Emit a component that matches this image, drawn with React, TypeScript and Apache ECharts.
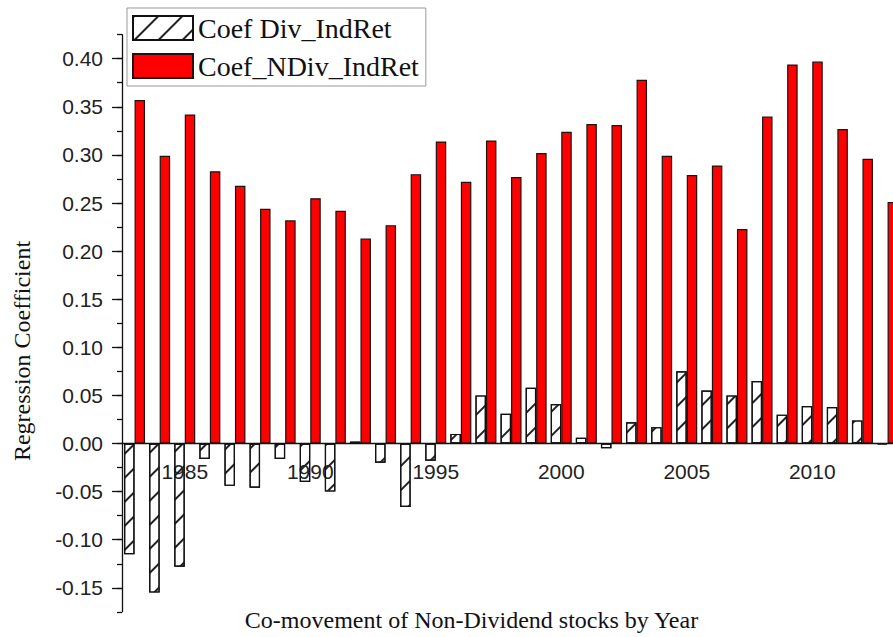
import React, { useEffect, useRef } from "react";
import * as echarts from "echarts";

// Years on the category axis
const years: string[] = [
  "1983", "1984", "1985", "1986", "1987", "1988", "1989", "1990", "1991", "1992",
  "1993", "1994", "1995", "1996", "1997", "1998", "1999", "2000", "2001", "2002",
  "2003", "2004", "2005", "2006", "2007", "2008", "2009", "2010", "2011", "2012", "2013",
];

// Coefficient on dividend-payers' industry return
const coefDiv: number[] = [
  -0.115, -0.155, -0.128, -0.016, -0.044, -0.046, -0.016, -0.040, -0.050, 0.002,
  -0.020, -0.066, -0.018, 0.010, 0.050, 0.031, 0.058, 0.041, 0.006, -0.005,
  0.022, 0.017, 0.075, 0.055, 0.050, 0.065, 0.030, 0.039, 0.038, 0.024, -0.001,
];

// Coefficient on non-dividend-payers' industry return
const coefNDiv: number[] = [
  0.357, 0.299, 0.342, 0.283, 0.268, 0.244, 0.232, 0.255, 0.242, 0.213,
  0.227, 0.280, 0.314, 0.272, 0.315, 0.277, 0.302, 0.324, 0.332, 0.331,
  0.378, 0.299, 0.279, 0.289, 0.223, 0.340, 0.394, 0.397, 0.327, 0.296, 0.251,
];

const seriesNames: string[] = ["Coef Div_IndRet", "Coef_NDiv_IndRet"];

const SERIF = "'Liberation Serif', 'Times New Roman', serif";
const SANS = "'Liberation Sans', Arial, sans-serif";
const INK = "#111";

// Pixel frame shared by all grids (plot spans 1982.5 .. 2013.5)
const LEFT = 122;
const RIGHT = 29.9;

export default function App() {
  const ref = useRef<HTMLDivElement>(null);

  useEffect(() => {
    if (!ref.current) return;
    const chart = echarts.init(ref.current, undefined, { renderer: "svg" });

    const isMajorYear = (_i: number, v: string) => Number(v) % 5 === 0;
    const tickStyle = { color: INK, width: 1.3 };
    const gridBase = { left: LEFT, right: RIGHT, outerBoundsMode: "none", containLabel: false };

    chart.setOption({
      animation: false,
      backgroundColor: "#fff",
      grid: [
        // 0: bars, value range -0.175 .. 0.425
        { ...gridBase, top: 34.65, bottom: 25.15 },
        // 1: labelled value range -0.15 .. 0.40 on the same pixel scale
        { ...gridBase, top: 58.7, bottom: 49.2 },
        // 2 and 3: upper half ending at the zero line, carrying the year axis
        { ...gridBase, top: 34.65, bottom: 193.5 },
        { ...gridBase, top: 34.65, bottom: 193.5 },
      ],
      legend: {
        data: seriesNames,
        orient: "vertical",
        left: 127,
        top: 8,
        icon: "rect",
        itemWidth: 60,
        itemHeight: 24,
        itemGap: 10,
        padding: [6, 7, 6, 5],
        borderColor: "#999",
        borderWidth: 1,
        backgroundColor: "#fff",
        textStyle: { fontFamily: SERIF, fontSize: 28, color: INK },
      },
      xAxis: [
        { type: "category", gridIndex: 0, data: years, show: false },
        { type: "category", gridIndex: 1, data: years, show: false },
        {
          type: "category",
          gridIndex: 2,
          data: years,
          position: "bottom",
          axisLine: { onZero: false, lineStyle: tickStyle },
          axisTick: {
            alignWithLabel: true,
            interval: isMajorYear,
            length: 10,
            lineStyle: tickStyle,
          },
          axisLabel: {
            interval: isMajorYear,
            margin: 17,
            fontFamily: SANS,
            fontSize: 21,
            color: "#222",
          },
          splitLine: { show: false },
        },
        {
          type: "category",
          gridIndex: 3,
          data: years,
          position: "bottom",
          axisLine: { show: false, onZero: false },
          axisTick: {
            alignWithLabel: false,
            interval: (i: number) => (1983 + i) % 5 === 3,
            length: 5,
            lineStyle: tickStyle,
          },
          axisLabel: { show: false },
          splitLine: { show: false },
        },
      ],
      yAxis: [
        {
          type: "value",
          gridIndex: 0,
          min: -0.175,
          max: 0.425,
          interval: 0.025,
          axisLine: { show: true, onZero: false, lineStyle: tickStyle },
          axisTick: { show: true, length: 5, lineStyle: tickStyle },
          axisLabel: { show: false },
          splitLine: { show: false },
        },
        {
          type: "value",
          gridIndex: 1,
          min: -0.15,
          max: 0.4,
          interval: 0.05,
          axisLine: { show: false, onZero: false },
          axisTick: { show: true, length: 10, lineStyle: tickStyle },
          axisLabel: {
            margin: 19,
            fontFamily: SANS,
            fontSize: 21,
            color: "#222",
            formatter: (v: number) => v.toFixed(2),
          },
          splitLine: { show: false },
        },
        { type: "value", gridIndex: 2, min: 0, max: 1, show: false },
        { type: "value", gridIndex: 3, min: 0, max: 1, show: false },
      ],
      graphic: [
        {
          type: "text",
          x: 22,
          y: 351,
          rotation: Math.PI / 2,
          style: {
            text: "Regression Coefficient",
            font: `24px ${SERIF}`,
            fill: INK,
            textAlign: "center",
            textVerticalAlign: "middle",
          },
        },
        {
          type: "text",
          x: 471.5,
          y: 620,
          style: {
            text: "Co-movement of Non-Dividend stocks by Year",
            font: `24px ${SERIF}`,
            fill: INK,
            textAlign: "center",
            textVerticalAlign: "middle",
          },
        },
      ],
      series: [
        {
          name: seriesNames[0],
          type: "bar",
          xAxisIndex: 0,
          yAxisIndex: 0,
          data: coefDiv,
          barWidth: 10.5,
          barGap: "0%",
          itemStyle: {
            // open hatched bars: the year labels show through them
            color: "rgba(255,255,255,0)",
            borderColor: INK,
            borderWidth: 1.2,
            decal: {
              symbol: "rect",
              symbolSize: 1,
              color: "#222",
              dashArrayX: [[1, 0]],
              dashArrayY: [1.5, 14.5],
              rotation: -Math.PI / 4,
            },
          },
        },
        {
          name: seriesNames[1],
          type: "bar",
          xAxisIndex: 0,
          yAxisIndex: 0,
          data: coefNDiv,
          barWidth: 10.5,
          barGap: "0%",
          itemStyle: {
            color: "#ff0000",
            borderColor: "#221111",
            borderWidth: 1.2,
          },
        },
      ],
    });

    return () => chart.dispose();
  }, []);

  return (
    <div
      style={{
        position: "fixed",
        left: 0,
        top: 0,
        width: 893,
        height: 637,
        overflow: "hidden",
        background: "#fff",
      }}
    >
      <div ref={ref} style={{ width: 930, height: 637 }} />
    </div>
  );
}
